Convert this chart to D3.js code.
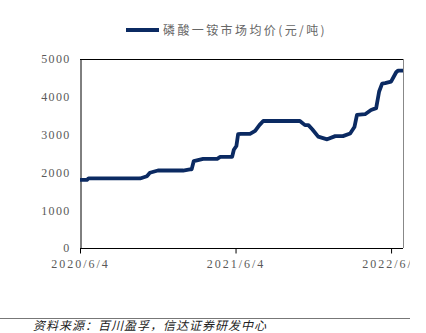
<!DOCTYPE html>
<html>
<head>
<meta charset="utf-8">
<script src="https://cdn.jsdelivr.net/npm/d3@7"></script>
<style>
	body { margin: 0; background: #fff; }
	svg { display: block; }
</style>
</head>
<body>
<svg id="chart" width="426" height="333"></svg>
<script>
// data (estimates)
const dates = ['2020-06-04', '2020-06-20', '2020-06-24', '2020-07-04', '2020-10-23', '2020-11-08', '2020-11-15', '2020-12-04', '2021-02-01',
	'2021-02-17', '2021-02-21', '2021-02-26', '2021-03-20', '2021-04-22', '2021-04-29', '2021-05-27', '2021-05-31',
	'2021-06-06', '2021-06-10', '2021-06-17', '2021-07-08', '2021-07-20', '2021-07-30', '2021-08-08', '2021-11-02',
	'2021-11-14', '2021-11-22', '2021-12-01', '2021-12-15', '2022-01-05', '2022-01-24', '2022-02-11', '2022-02-28',
	'2022-03-10', '2022-03-16', '2022-04-04', '2022-04-18', '2022-04-30', '2022-05-07', '2022-05-14', '2022-05-21',
	'2022-06-04', '2022-06-16', '2022-06-20', '2022-07-02']
const prices = [1800, 1800, 1840, 1840, 1840, 1900, 1990, 2050, 2050,
	2080, 2080, 2300, 2360, 2360, 2410, 2410, 2600,
	2700, 3010, 3020, 3020, 3100, 3250, 3360, 3360,
	3250, 3250, 3140, 2945, 2875, 2960, 2960, 3030,
	3200, 3520, 3540, 3650, 3700, 4140, 4350, 4360,
	4400, 4650, 4690, 4690]
const yTicks = [0, 1000, 2000, 3000, 4000, 5000]
const xTicks = ['2020-06-04', '2021-06-04', '2022-06-04']
const legendText = '磷酸一铵市场均价(元/吨)'
const sourceText = '资料来源：百川盈孚，信达证券研发中心'

const parse = d3.timeParse('%Y-%m-%d')
const series = dates.map((d, i) => ({ date: parse(d), v: prices[i] }))

const svg = d3.select('#chart')
const M = { left: 80, right: 403, top: 59, bottom: 248 }
const GREY = '#595959'
const NAVY = '#0b2a62'

const x = d3.scaleTime()
	.domain([parse(dates[0]), parse(dates[dates.length - 1])])
	.range([M.left, M.right])
const y = d3.scaleLinear().domain([0, 5000]).range([M.bottom, M.top])

// clip everything past 410 so the last date label gets cut like the original
svg.append('clipPath').attr('id', 'cut')
	.append('rect').attr('x', 0).attr('y', 0).attr('width', 410).attr('height', 333)
const g = svg.append('g').attr('clip-path', 'url(#cut)')

// frame: top black, right grey
g.append('line')
	.attr('x1', M.left).attr('x2', M.right).attr('y1', M.top + 0.5).attr('y2', M.top + 0.5)
	.attr('stroke', '#000')
g.append('line')
	.attr('x1', M.right + 0.5).attr('x2', M.right + 0.5).attr('y1', M.top).attr('y2', M.bottom)
	.attr('stroke', '#888')

// y axis
const yAxis = g.append('g')
	.attr('transform', `translate(${M.left + 0.5},0)`)
	.call(d3.axisLeft(y).tickValues(yTicks).tickSize(0).tickPadding(10).tickFormat(d3.format('d')))
yAxis.select('.domain').attr('stroke', '#000')
yAxis.selectAll('text')
	.attr('fill', GREY)
	.style('font', '12px "Liberation Serif", serif')
	.style('letter-spacing', '1.3px')

// x axis
const xAxis = g.append('g')
	.attr('transform', `translate(0,${M.bottom + 0.5})`)
	.call(d3.axisBottom(x).tickValues(xTicks.map(parse)).tickSize(5).tickPadding(6).tickFormat(d3.timeFormat('%Y/%-m/%-d')))
xAxis.select('.domain').attr('stroke', '#000').attr('d', `M${M.left},0H${M.right}`)
xAxis.selectAll('.tick line').attr('stroke', '#000')
xAxis.selectAll('text')
	.attr('fill', GREY)
	.style('font', '12px "Liberation Serif", serif')
	.style('letter-spacing', '2px')

// the line
g.append('path')
	.datum(series)
	.attr('fill', 'none')
	.attr('stroke', NAVY)
	.attr('stroke-width', 3.8)
	.attr('stroke-linejoin', 'round')
	.attr('d', d3.line().x(d => x(d.date)).y(d => y(d.v)))

// legend
g.append('line')
	.attr('x1', 126).attr('x2', 159).attr('y1', 30).attr('y2', 30)
	.attr('stroke', NAVY).attr('stroke-width', 3.8)
g.append('text')
	.attr('x', 163).attr('y', 35)
	.attr('fill', '#666')
	.style('font', '12px "Noto Sans CJK SC", sans-serif')
	.style('letter-spacing', '2.4px')
	.text(legendText)

// source note
g.append('line')
	.attr('x1', 0).attr('x2', 410).attr('y1', 318.5).attr('y2', 318.5)
	.attr('stroke', '#777')
g.append('text')
	.attr('x', 33).attr('y', 330)
	.attr('fill', '#222')
	.style('font', 'italic 12px "Noto Sans CJK SC", sans-serif')
	.style('letter-spacing', '1px')
	.text(sourceText)
</script>
</body>
</html>
